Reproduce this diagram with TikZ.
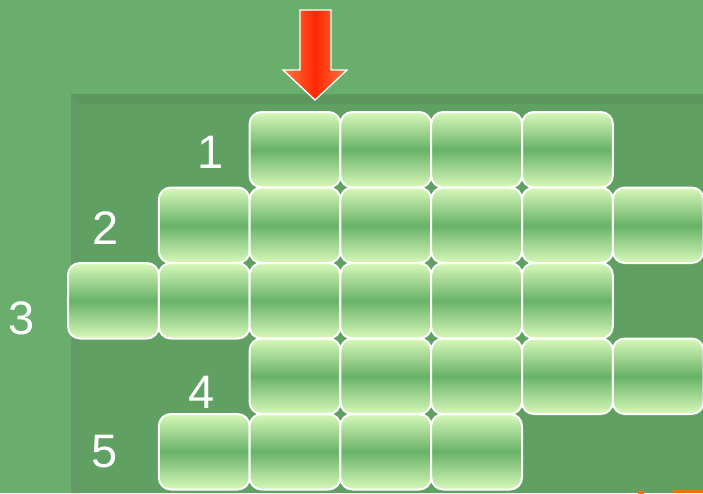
\documentclass[tikz,border=0pt]{standalone}
\usepackage{fontspec}
\setmainfont{Liberation Sans}
\definecolor{bgout}{RGB}{106,174,110}
\definecolor{bgpanel}{RGB}{96,160,98}
\definecolor{bevelleft}{RGB}{99,154,102}
\definecolor{beveltop}{RGB}{92,152,94}
\definecolor{celltop}{RGB}{216,249,186}
\definecolor{cellmid}{RGB}{104,178,104}
\definecolor{arrowedge}{RGB}{255,120,70}
\definecolor{arrowmid}{RGB}{255,40,0}
\definecolor{orangebit}{RGB}{240,110,20}
\begin{document}
\begin{tikzpicture}[x=1pt,y=-1pt,
  cell/.style={draw=white, line width=2pt, rounded corners=12pt,
    minimum width=90.8pt, minimum height=75.5pt, inner sep=0pt,
    top color=celltop, bottom color=celltop, middle color=cellmid},
  lbl/.style={text=white, inner sep=0pt, font=\fontsize{47}{50}\selectfont}]
\useasboundingbox (0,0) rectangle (703,493);
\fill[bgout] (0,0) rectangle (703,493);
% panel
\fill[bgpanel] (71,94) rectangle (703,493);
\fill[beveltop] (71,94) -- (703,94) -- (703,104) -- (80,104) -- cycle;
\fill[bevelleft] (71,94) -- (80,104) -- (80,493) -- (71,493) -- cycle;
% cells: column i left = 68 + 90.8 i, row j top = 112 + 75.5 j
\foreach \r/\cols in {1/{3,4,5,6}, 2/{2,3,4,5,6,7}, 3/{1,2,3,4,5,6}, 4/{3,4,5,6,7}, 5/{2,3,4,5}} {
  \foreach \c in \cols {
    \node[cell] (r\r c\c) at ({68+90.8*(\c-1)+45.4},{112+75.5*(\r-1)+37.75}) {};
  }
}
% labels
\node[lbl] (l1) at (211,152) {1};
\node[lbl] (l2) at (106,228) {2};
\node[lbl] (l3) at (22,318) {3};
\node[lbl] (l4) at (202,392) {4};
\node[lbl] (l5) at (105,452) {5};
% arrow
\shade[left color=arrowedge, right color=arrowedge, middle color=arrowmid]
  (300,10) -- (331,10) -- (331,70) -- (347,70) -- (315,100) -- (283,70) -- (300,70) -- cycle;
\draw[white, line width=1.3pt, line join=miter]
  (300,10) -- (331,10) -- (331,70) -- (347,70) -- (315,100) -- (283,70) -- (300,70) -- cycle;
% cut-off orange bits at bottom edge
\fill[orangebit] (673,490) rectangle (703,493);
\fill[orangebit] (641,493) circle (3);
\end{tikzpicture}
\end{document}
